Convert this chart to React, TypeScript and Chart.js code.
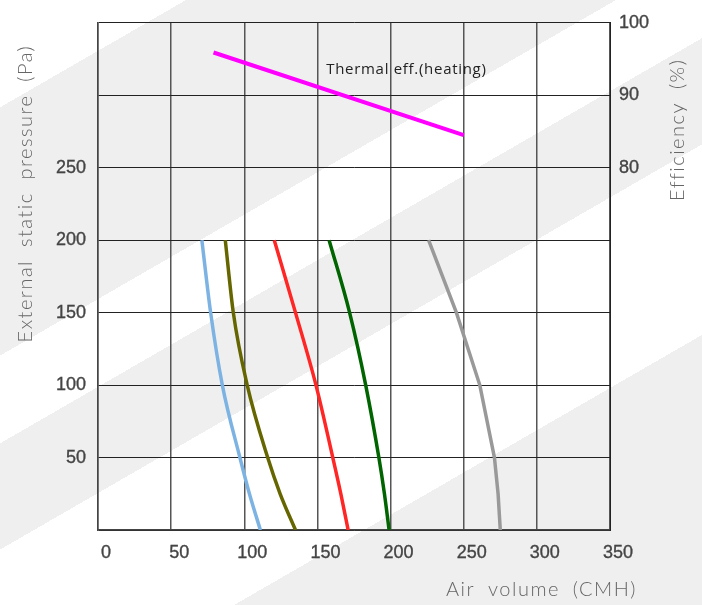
import React, { useEffect, useRef } from "react";
import { Chart, registerables } from "chart.js";

Chart.register(...registerables);

// ---- data ----
const pressureLevels = [200, 150, 100, 50, 25, 0];
const flowBlue = [71, 77, 85, 97, 103.5, 111];
const flowOlive = [87, 92.5, 102, 116, 124.5, 135];
const flowRed = [120.5, 135, 149, 160.5, 166, 171];
const flowGreen = [158, 172, 183, 192, 195.8, 199];
const flowGray = [226, 245, 261, 271, 273.5, 275];

const effFlow = [79, 250];
const effValue = [95.9, 84.5];

const xTicks = [0, 50, 100, 150, 200, 250, 300, 350];
const yLabelled = [50, 100, 150, 200, 250];
const effTicks = [80, 90, 100];

const xTitle = "Air volume (CMH)";
const yTitle = "External static pressure (Pa)";
const y1Title = "Efficiency (%)";
const effLabel = "Thermal eff.(heating)";
const effLabelAt = [156, 93.5];

const toPts = (xs: number[], ys: number[]) => xs.map((v, i) => ({ x: v, y: ys[i] }));

const titlesPlugin = {
  id: "customTitles",
  afterDraw(chart: any) {
    const ctx = chart.ctx;
    const area = chart.chartArea;
    const xs = chart.scales.x;
    const y1 = chart.scales.y1;
    ctx.save();
    // annotation
    ctx.font = '15px "Open Sans", sans-serif';
    ctx.fillStyle = "#222";
    ctx.textAlign = "left";
    ctx.textBaseline = "middle";
    try {
      (ctx as any).letterSpacing = "0.7px";
    } catch (e) {}
    ctx.fillText(effLabel, xs.getPixelForValue(effLabelAt[0]), y1.getPixelForValue(effLabelAt[1]));

    ctx.font = '300 20px "Lato", sans-serif';
    ctx.fillStyle = "#666";
    try {
      (ctx as any).letterSpacing = "1.5px";
      (ctx as any).wordSpacing = "6px";
    } catch (e) {}
    // bottom title
    ctx.textAlign = "right";
    ctx.textBaseline = "middle";
    ctx.fillText(xTitle, area.right + 27, chart.height - 15);
    // left title
    ctx.save();
    ctx.translate(26, area.top + 22);
    ctx.rotate(-Math.PI / 2);
    ctx.textAlign = "right";
    ctx.fillText(yTitle, 0, 0);
    ctx.restore();
    // right title
    ctx.save();
    ctx.translate(area.right + 68, area.top + 107);
    ctx.rotate(-Math.PI / 2);
    ctx.textAlign = "center";
    ctx.fillText(y1Title, 0, 0);
    ctx.restore();
    ctx.restore();
  },
};

const tickFont = { family: '"Liberation Sans", Arial, sans-serif', size: 18 };
const tickStyle = {
  font: tickFont,
  color: "#444",
  textStrokeColor: "#222",
  textStrokeWidth: 0.3,
};

export default function App() {
  const ref = useRef<HTMLCanvasElement>(null);
  useEffect(() => {
    if (!ref.current) return;
    const lineDs = (label: string, xs: number[], color: string, smooth: boolean) => ({
      label,
      data: toPts(xs, pressureLevels),
      borderColor: color,
      borderWidth: 3.5,
      pointRadius: 0,
      cubicInterpolationMode: smooth ? "monotone" : "default",
      tension: smooth ? 0.4 : 0,
      yAxisID: "y",
      showLine: true,
    });
    const chart = new Chart(ref.current, {
      type: "scatter",
      data: {
        datasets: [
          lineDs("blue", flowBlue, "#7db3e3", true),
          lineDs("olive", flowOlive, "#666600", true),
          lineDs("red", flowRed, "#ff2626", true),
          lineDs("green", flowGreen, "#006400", true),
          lineDs("gray", flowGray, "#999999", false),
          {
            label: "eff",
            data: toPts(effFlow, effValue),
            borderColor: "#ff00ff",
            borderWidth: 4,
            pointRadius: 0,
            showLine: true,
            yAxisID: "y1",
          } as any,
        ],
      },
      options: {
        animation: false,
        responsive: false,
        layout: { padding: { top: 20, left: 0, right: 0, bottom: 0 } },
        plugins: { legend: { display: false }, tooltip: { enabled: false } },
        scales: {
          x: {
            type: "linear",
            min: 0,
            max: 350,
            afterBuildTicks: (s: any) => {
              s.ticks = xTicks.map((v) => ({ value: v }));
            },
            afterFit: (s: any) => {
              s.height = 75;
            },
            grid: { color: "#555", lineWidth: 1.5, drawTicks: false },
            border: { display: true, color: "#444", width: 1.5 },
            ticks: {
              autoSkip: false,
              maxRotation: 0,
              padding: 12,
              labelOffset: 8,
              ...tickStyle,
            } as any,
          },
          y: {
            type: "linear",
            position: "left",
            min: 0,
            max: 350,
            afterBuildTicks: (s: any) => {
              s.ticks = xTicks.map((v) => ({ value: v }));
            },
            afterFit: (s: any) => {
              s.width = 98;
            },
            grid: { color: "#222", lineWidth: 1, drawTicks: false },
            border: { display: true, color: "#444", width: 1.5 },
            ticks: {
              autoSkip: false,
              padding: 12,
              ...tickStyle,
              callback: (v: any) => (yLabelled.includes(Number(v)) ? String(v) : ""),
            } as any,
          },
          y1: {
            type: "linear",
            position: "right",
            min: 30,
            max: 100,
            afterBuildTicks: (s: any) => {
              s.ticks = effTicks.map((v) => ({ value: v }));
            },
            afterFit: (s: any) => {
              s.width = 92;
            },
            grid: { display: false, drawTicks: false },
            border: { display: true, color: "#222", width: 1 },
            ticks: {
              autoSkip: false,
              padding: 9,
              ...tickStyle,
            } as any,
          },
        },
      },
      plugins: [titlesPlugin],
    } as any);
    return () => chart.destroy();
  }, []);

  const bg =
    "linear-gradient(150deg, #ffffff 0px, #ffffff 93px, #efefef 93px, #efefef 308px, #ffffff 308px, #ffffff 384px, #efefef 384px, #efefef 476px, #ffffff 476px, #ffffff 641px, #efefef 641px, #efefef 100%)";

  return (
    <div
      style={{
        position: "absolute",
        left: 0,
        top: 0,
        width: 702,
        height: 605,
        background: bg,
      }}
    >
      <canvas ref={ref} width={702} height={605} style={{ display: "block", width: 702, height: 605 }} />
    </div>
  );
}
